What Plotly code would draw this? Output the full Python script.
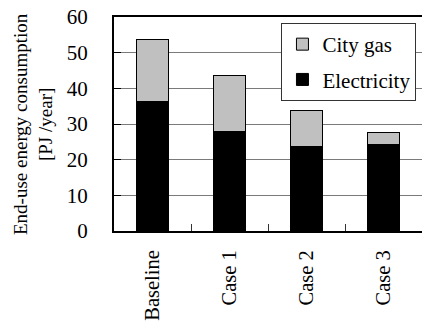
import plotly.graph_objects as go

categories = ["Baseline", "Case 1", "Case 2", "Case 3"]
electricity = [36.2, 27.8, 23.7, 24.2]
city_gas = [17.4, 15.9, 10.1, 3.5]
y_ticks = [0, 10, 20, 30, 40, 50, 60]

FONT = "Times New Roman"

fig = go.Figure()
fig.add_trace(go.Bar(
    x=categories, y=electricity, name="Electricity",
    marker=dict(color="#000000", line=dict(color="#000000", width=1)),
    legendgroup="e", legendrank=2,
))
fig.add_trace(go.Bar(
    x=categories, y=city_gas, name="City gas",
    marker=dict(color="#c0c0c0", line=dict(color="#000000", width=1)),
    legendgroup="g", legendrank=1,
))

fig.update_layout(
    width=422, height=325,
    margin=dict(l=114, r=0, t=17, b=94, autoexpand=False),
    barmode="stack", bargap=0.585,
    plot_bgcolor="white", paper_bgcolor="white",
    font=dict(family=FONT, color="black", size=20),
    showlegend=True,
    legend=dict(
        x=0.982, xanchor="right", y=0.972, yanchor="top",
        traceorder="grouped", tracegroupgap=5,
        bgcolor="white", bordercolor="#333333", borderwidth=1,
        font=dict(family=FONT, size=21, color="black"),
    ),
    annotations=[dict(
        text="End-use energy consumption<br>[PJ /year]",
        xref="paper", yref="paper", x=-0.263, y=0.5,
        xanchor="center", yanchor="middle", textangle=-90,
        showarrow=False, font=dict(family=FONT, size=19, color="black"),
    )],
)

fig.update_xaxes(
    type="category", range=[-0.5, 3.5], automargin=False,
    showline=True, linecolor="black", linewidth=2, mirror=True,
    tickson="boundaries", ticks="inside", ticklen=7, tickcolor="#333333",
    tickangle=-90, tickfont=dict(family=FONT, size=20.5, color="black"),
    ticklabelstandoff=9, showgrid=False, ticklabeloverflow="allow",
)
fig.update_yaxes(
    range=[0, 60], tickvals=y_ticks, ticktext=[str(v) for v in y_ticks],
    automargin=False,
    showline=True, linecolor="black", linewidth=2,
    ticks="inside", ticklen=7, tickcolor="black",
    showgrid=True, gridcolor="#7a7a7a", gridwidth=1.2,
    zeroline=False, ticklabeloverflow="allow",
    tickfont=dict(family=FONT, size=21, color="black"),
    ticklabelstandoff=20,
)

fig.write_html("out.html", config={"displayModeBar": False},
               post_script="document.body.style.margin='0';")
